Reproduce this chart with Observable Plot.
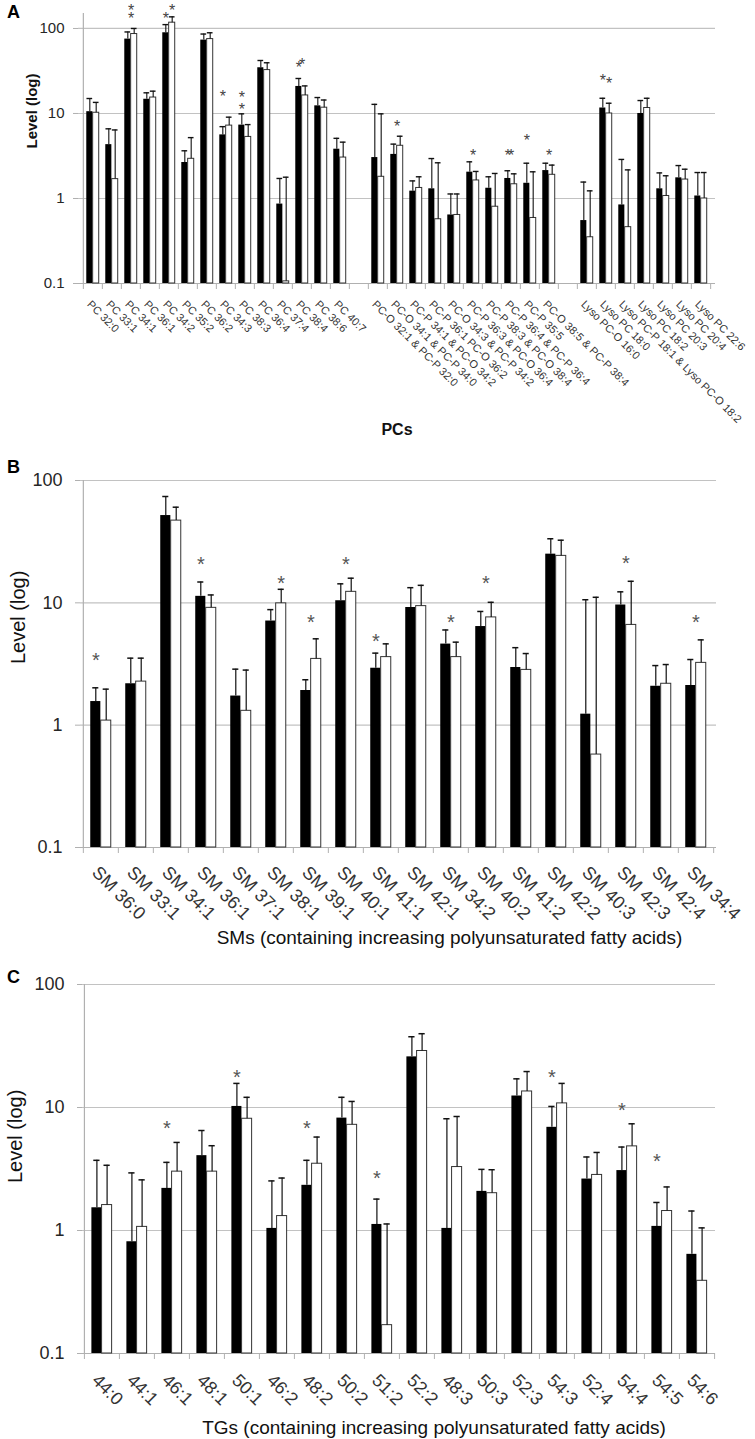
<!DOCTYPE html>
<html><head><meta charset="utf-8">
<script src="https://cdn.jsdelivr.net/npm/d3@7"></script>
<script src="https://cdn.jsdelivr.net/npm/@observablehq/plot@0.6"></script>
<style>
body{margin:0;background:#fff;}
#wrap{width:755px;}
#wrap svg{display:block;}
</style></head><body><div id="wrap"></div>
<script>
// ---------- Panel A: PCs ----------
const pcCats = ["PC 32:0","PC 33:1","PC 34:1","PC 36:1","PC 34:2","PC 35:2","PC 36:2","PC 34:3","PC 38:3","PC 36:4","PC 37:4","PC 38:4","PC 38:6","PC 40:7"];
const pcBlack    = [10.5, 4.3, 75, 14.7, 89, 2.65, 73, 5.6, 7.3, 34.5, 0.86, 20.8, 12.3, 3.8];
const pcBlackErr = [15, 6.6, 91, 17.5, 111, 3.64, 86, 7.0, 9.9, 42, 1.72, 25.8, 15.4, 5.1];
const pcWhite    = [10.2, 1.69, 86, 15.4, 117, 2.93, 75, 7.2, 5.3, 32.4, 0.106, 16.3, 11.7, 3.03];
const pcWhiteErr = [13.5, 6.4, 100, 18.3, 137, 5.2, 89, 9.05, 7.4, 39.5, 1.78, 21.1, 14.4, 4.6];

const pcoCats = ["PC-O 32:1 & PC-P 32:0","PC-O 34:1 & PC-P 34:0","PC-P 34:1 & PC-O 34:2","PC-P 36:1 PC-O 36:2","PC-O 34:3 & PC-P 34:2","PC-P 36:3 & PC-O 36:4","PC-P 38:3 & PC-O 38:4","PC-P 36:4 & PC-P 36:4","PC-P 35:5","PC-O 38:5 & PC-P 38:4"];
const pcoBlack    = [3.03, 3.3, 1.22, 1.3, 0.64, 2.04, 1.32, 1.72, 1.51, 2.13];
const pcoBlackErr = [12.8, 4.36, 1.61, 2.95, 1.13, 2.7, 1.8, 2.12, 2.6, 2.6];
const pcoWhite    = [1.8, 4.17, 1.33, 0.57, 0.64, 1.63, 0.8, 1.47, 0.59, 1.9];
const pcoWhiteErr = [9.9, 5.4, 1.8, 2.63, 1.13, 2.08, 1.97, 1.95, 2.06, 2.47];

const lysoCats = ["Lyso PC-O 16:0","Lyso PC 18:0","Lyso PC-P 18:1 & Lyso PC-O 18:2","Lyso PC 18:2","Lyso PC 20:3","Lyso PC 20:4","Lyso PC 22:6"];
const lysoBlack    = [0.55, 11.6, 0.84, 10, 1.3, 1.75, 1.07];
const lysoBlackErr = [1.56, 15.1, 2.88, 14.2, 2.0, 2.44, 2.02];
const lysoWhite    = [0.35, 10, 0.46, 11.6, 1.07, 1.67, 1.0];
const lysoWhiteErr = [1.23, 13.2, 2.17, 15.1, 1.85, 2.21, 2.02];

const aStarCats  = ["PC 34:1","PC 34:1","PC 34:2","PC 34:2","PC 34:3","PC 38:3","PC 38:3","PC 38:4","PC 38:4","PC-O 34:1 & PC-P 34:0","PC-P 36:3 & PC-O 36:4","PC-P 36:4 & PC-P 36:4","PC-P 36:4 & PC-P 36:4","PC-P 35:5","PC-O 38:5 & PC-P 38:4","Lyso PC 18:0","Lyso PC 18:0"];
const aStarSide  = ["both","both","black","white","black","black","black","black","both","both","both","black","both","black","both","black","white"];
const aStarLevel = [180, 143, 143, 180, 17.5, 16.9, 12.2, 38, 42, 7.8, 3.54, 3.54, 3.54, 5.3, 3.54, 27, 25];

// ---------- Panel B: SMs ----------
const smCats = ["SM 36:0","SM 33:1","SM 34:1","SM 36:1","SM 37:1","SM 38:1","SM 39:1","SM 40:1","SM 41:1","SM 42:1","SM 34:2","SM 40:2","SM 41:2","SM 42:2","SM 40:3","SM 42:3","SM 42:4","SM 34:4"];
const smBlack    = [1.56, 2.18, 51.7, 11.3, 1.73, 7.1, 1.92, 10.4, 2.92, 9.16, 4.6, 6.4, 2.96, 25, 1.23, 9.6, 2.08, 2.11];
const smBlackErr = [2.02, 3.53, 74, 14.8, 2.87, 8.8, 2.35, 14.3, 3.88, 13.3, 6.0, 8.5, 4.3, 33.4, 10.6, 12.3, 3.07, 3.44];
const smWhite    = [1.09, 2.27, 47, 9.1, 1.31, 9.9, 3.48, 12.3, 3.6, 9.4, 3.6, 7.6, 2.83, 24.2, 0.575, 6.6, 2.18, 3.23];
const smWhiteErr = [1.97, 3.53, 60.5, 11.6, 2.82, 12.9, 5.08, 15.9, 4.62, 13.9, 4.77, 10.1, 3.85, 32.5, 11.1, 15.0, 3.13, 4.98];
const bStarCats  = ["SM 36:0","SM 36:1","SM 38:1","SM 39:1","SM 40:1","SM 41:1","SM 34:2","SM 40:2","SM 42:3","SM 34:4"];
const bStarSide  = ["black","black","white","both","both","black","both","both","both","both"];
const bStarLevel = [3.71, 22.5, 15.7, 7.6, 22.5, 5.3, 7.6, 15.7, 22.9, 7.6];

// ---------- Panel C: TGs ----------
const tgCats = ["44:0","44:1","46:1","48:1","50:1","46:2","48:2","50:2","51:2","52:2","48:3","50:3","52:3","54:3","52:4","54:4","54:5","54:6"];
const tgBlack    = [1.53, 0.81, 2.2, 4.06, 10.2, 1.04, 2.33, 8.2, 1.12, 25.8, 1.04, 2.08, 12.4, 6.9, 2.62, 3.07, 1.08, 0.64];
const tgBlackErr = [3.72, 2.94, 3.58, 6.5, 15.7, 2.53, 3.72, 12.1, 1.8, 37.6, 8.1, 3.14, 17.1, 10.2, 3.96, 4.77, 1.69, 1.44];
const tgWhite    = [1.61, 1.07, 3.01, 3.01, 8.1, 1.31, 3.49, 7.23, 0.17, 28.8, 3.28, 2.01, 13.5, 10.8, 2.83, 4.83, 1.44, 0.39];
const tgWhiteErr = [3.39, 2.58, 5.2, 4.89, 12.1, 2.67, 5.75, 11.2, 1.13, 39.8, 8.45, 3.12, 19.6, 15.7, 4.31, 7.37, 2.26, 1.05];
const cStarCats  = ["46:1","50:1","48:2","51:2","54:3","54:4","54:5"];
const cStarSide  = ["black","black","black","black","black","black","black"];
const cStarLevel = [7.46, 19.3, 7.46, 2.9, 19.3, 10.3, 4.0];

// ---------- shared ----------
const yTicks = [0.1, 1, 10, 100];
const yTickLabels = ["0.1", "1", "10", "100"];
const gridLevels = [1, 10, 100];

const W = 755;
const GRID = "#c2c2c2", AXIS = "#b0b0b0", INK = "#262626";
const FONT = "'Liberation Sans', Arial, Helvetica, sans-serif";

function panel(cfg) {
  const domain = cfg.domain;
  const s = (W - cfg.ml - cfg.mr) / domain.length;
  const bw = s * cfg.pair / 2;
  const cap = cfg.cap;
  const rows = cfg.cats.map((c, i) => ({cat: c, b: cfg.black[i], be: cfg.blackErr[i], w: cfg.white[i], we: cfg.whiteErr[i]}));
  const stars = cfg.starCats.map((c, i) => ({cat: c, side: cfg.starSide[i], v: cfg.starLevel[i]}));
  const lo = yTicks[0];
  const starOff = {black: -bw / 2, both: 0, white: bw / 2};
  const starMarks = ["black", "both", "white"].map(side =>
    Plot.text(stars.filter(d => d.side === side), {
      x: "cat", y: "v", text: () => "*", dx: starOff[side], dy: cfg.starFont * 0.25,
      fontSize: cfg.starFont, fill: cfg.starFill, fontFamily: FONT
    }));
  const last = domain[domain.length - 1];
  return Plot.plot({
    width: W, height: cfg.height,
    marginTop: cfg.mt, marginBottom: cfg.mb, marginLeft: cfg.ml, marginRight: cfg.mr,
    style: {fontFamily: FONT, background: "#fff", overflow: "visible"},
    x: {type: "band", domain, padding: 0, axis: null},
    y: {type: "log", domain: [lo, cfg.ymax], axis: null},
    marks: [
      Plot.ruleY(gridLevels, {stroke: GRID, strokeWidth: 1.2}),
      Plot.ruleY([lo], {stroke: AXIS, strokeWidth: 1.2}),
      Plot.ruleX([domain[0]], {x: d => d, dx: -s / 2, y1: () => lo, y2: () => cfg.ymax, stroke: AXIS, strokeWidth: 1.2}),
      Plot.ruleX(domain, {x: d => d, dx: -s / 2, y1: () => lo, y2: () => lo, insetBottom: -6, stroke: AXIS}),
      Plot.ruleX([last], {x: d => d, dx: s / 2, y1: () => lo, y2: () => lo, insetBottom: -6, stroke: AXIS}),
      Plot.axisY({ticks: yTicks, tickFormat: d => yTickLabels[yTicks.indexOf(d)], tickSize: 5,
        tickPadding: cfg.tickPad, fontSize: cfg.tickFont, stroke: AXIS, fill: INK, label: null}),
      // bars
      Plot.barY(rows, {x: "cat", y1: () => lo, y2: "b", fill: "#000", insetLeft: s / 2 - bw, insetRight: s / 2}),
      Plot.barY(rows, {x: "cat", y1: () => lo, y2: "w", fill: "#fff", stroke: "#333", strokeWidth: 1, insetLeft: s / 2, insetRight: s / 2 - bw}),
      // error bars
      Plot.ruleX(rows, {x: "cat", y1: "b", y2: "be", dx: -bw / 2, stroke: "#111", strokeWidth: cfg.ew}),
      Plot.ruleX(rows, {x: "cat", y1: "w", y2: "we", dx: bw / 2, stroke: "#111", strokeWidth: cfg.ew}),
      Plot.tickY(rows, {x: "cat", y: "be", insetLeft: s / 2 - bw / 2 - cap, insetRight: s / 2 + bw / 2 - cap, stroke: "#111", strokeWidth: cfg.ew + 0.3}),
      Plot.tickY(rows, {x: "cat", y: "we", insetLeft: s / 2 + bw / 2 - cap, insetRight: s / 2 - bw / 2 - cap, stroke: "#111", strokeWidth: cfg.ew + 0.3}),
      ...starMarks,
      // category labels
      Plot.text(cfg.cats, {x: d => d, frameAnchor: "bottom", text: d => d, rotate: 45, textAnchor: "start",
        lineAnchor: "top", dx: cfg.labDx, dy: cfg.labDy, fontSize: cfg.labFont, fill: "#333"}),
      // y title
      Plot.text([cfg.yTitle], {frameAnchor: "left", text: d => d, rotate: -90, dx: cfg.yTitleDx, dy: cfg.yTitleDy,
        fontSize: cfg.yTitleFont, fontWeight: cfg.bold ? "bold" : "normal", fill: "#111"}),
      // x title
      Plot.text([cfg.xTitle], {frameAnchor: "bottom", text: d => d, dx: cfg.xTitleDx, dy: cfg.xTitleDy, lineAnchor: "middle",
        fontSize: cfg.xTitleFont, fontWeight: cfg.bold ? "bold" : "normal", fill: "#111"}),
      // panel letter
      Plot.text([cfg.letter], {frameAnchor: "top-left", text: d => d, dx: 13 - cfg.ml, dy: cfg.letterDy, lineAnchor: "middle",
        textAnchor: "middle", fontSize: 18, fontWeight: "bold", fill: "#000"})
    ]
  });
}

const wrap = document.getElementById("wrap");

wrap.appendChild(panel({
  letter: "A", letterDy: -1,
  domain: [...pcCats, "gap1", ...pcoCats, "gap2", ...lysoCats],
  cats: [...pcCats, ...pcoCats, ...lysoCats],
  black: [...pcBlack, ...pcoBlack, ...lysoBlack],
  blackErr: [...pcBlackErr, ...pcoBlackErr, ...lysoBlackErr],
  white: [...pcWhite, ...pcoWhite, ...lysoWhite],
  whiteErr: [...pcWhiteErr, ...pcoWhiteErr, ...lysoWhiteErr],
  starCats: aStarCats, starSide: aStarSide, starLevel: aStarLevel,
  height: 450, mt: 13, mb: 167, ml: 78, mr: 40, ymax: 150,
  pair: 0.66, cap: 3, ew: 1.1, starFont: 16, starFill: "#444",
  tickFont: 15, tickPad: 9, labFont: 11, labDx: -1, labDy: 16,
  yTitle: "Level (log)", yTitleFont: 15, yTitleDx: -46, yTitleDy: 0, bold: true,
  xTitle: "PCs", xTitleFont: 16, xTitleDx: 0, xTitleDy: 146
}));

wrap.appendChild(panel({
  letter: "B", letterDy: -13,
  domain: smCats, cats: smCats,
  black: smBlack, blackErr: smBlackErr, white: smWhite, whiteErr: smWhiteErr,
  starCats: bStarCats, starSide: bStarSide, starLevel: bStarLevel,
  height: 500, mt: 30, mb: 103, ml: 80, mr: 39, ymax: 100,
  pair: 0.59, cap: 3.2, ew: 1.2, starFont: 20, starFill: "#555",
  tickFont: 18, tickPad: 13, labFont: 18, labDx: -1, labDy: 17,
  yTitle: "Level (log)", yTitleFont: 20, yTitleDx: -62, yTitleDy: 0, bold: false,
  xTitle: "SMs (containing increasing polyunsaturated fatty acids)", xTitleFont: 19, xTitleDx: 51, xTitleDy: 90
}));

wrap.appendChild(panel({
  letter: "C", letterDy: -7,
  domain: tgCats, cats: tgCats,
  black: tgBlack, blackErr: tgBlackErr, white: tgWhite, whiteErr: tgWhiteErr,
  starCats: cStarCats, starSide: cStarSide, starLevel: cStarLevel,
  height: 489, mt: 34, mb: 86, ml: 82, mr: 40, ymax: 100,
  pair: 0.58, cap: 3.2, ew: 1.2, starFont: 20, starFill: "#555",
  tickFont: 18, tickPad: 13, labFont: 18, labDx: -2, labDy: 19,
  yTitle: "Level (log)", yTitleFont: 20, yTitleDx: -67, yTitleDy: 14, bold: false,
  xTitle: "TGs (containing increasing polyunsaturated fatty acids)", xTitleFont: 19, xTitleDx: 35, xTitleDy: 74
}));
</script></body></html>
